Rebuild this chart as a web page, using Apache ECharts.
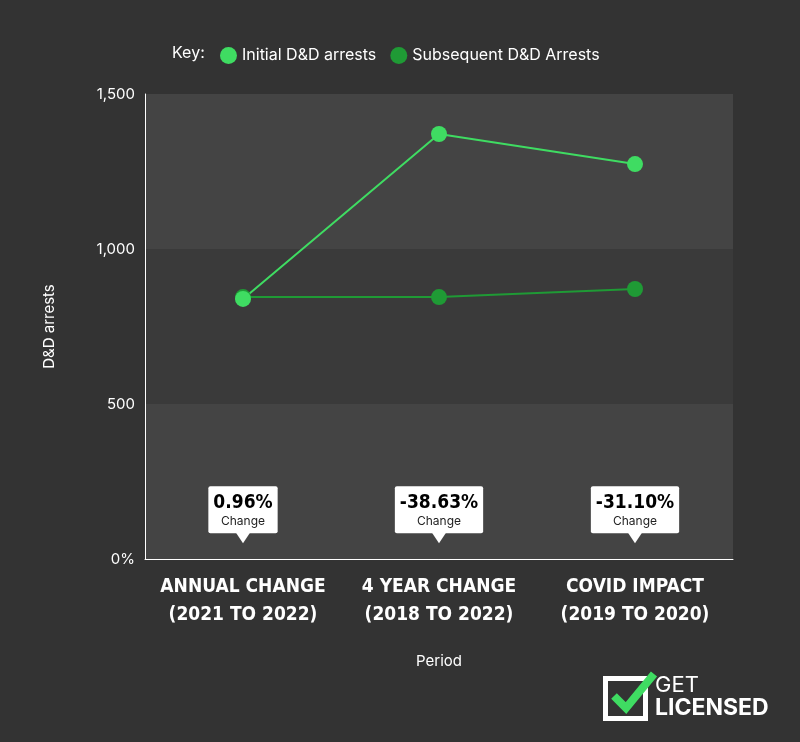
<!DOCTYPE html>
<html>
<head>
<meta charset="utf-8">
<script src="https://cdn.jsdelivr.net/npm/echarts@6/dist/echarts.min.js"></script>
<style>
  * { margin: 0; padding: 0 }
  html, body { width: 100%; height: 100%; background: #333333; }
  #main { width: 800px; height: 742px; }
</style>
</head>
<body>
<div id="main"></div>
<script>
var periods = ['ANNUAL CHANGE\n(2021 TO 2022)', '4 YEAR CHANGE\n(2018 TO 2022)', 'COVID IMPACT\n(2019 TO 2020)'];
var initialArrests = [839, 1371, 1274];
var subsequentArrests = [845, 845, 871];
var changeLabels = ['0.96%', '-38.63%', '-31.10%'];
var yTicks = {0: '0%', 500: '500', 1000: '1,000', 1500: '1,500'};

var chart = echarts.init(document.getElementById('main'));
var font = 'Inter, Roboto, sans-serif';
var narrow = '"DejaVu Sans Condensed", "Liberation Sans Narrow", sans-serif';
chart.setOption({
  backgroundColor: '#333333',
  grid: { left: 145, right: 67, top: 94, bottom: 183 },
  legend: {
    top: 42, left: 215, itemWidth: 17, itemHeight: 17, itemGap: 14,
    icon: 'circle',
    textStyle: { color: '#ffffff', fontSize: 16, fontFamily: font },
    data: ['Initial D&D arrests', 'Subsequent D&D Arrests']
  },
  xAxis: {
    type: 'category', data: periods,
    name: 'Period', nameLocation: 'middle', nameGap: 95,
    nameTextStyle: { color: '#ffffff', fontSize: 15, fontFamily: font },
    axisLine: { lineStyle: { color: '#ffffff' } },
    axisTick: { show: false },
    axisLabel: { color: '#ffffff', fontSize: 19, fontWeight: 'bold', lineHeight: 28, margin: 14,
      interval: 0, hideOverlap: false, fontFamily: narrow }
  },
  yAxis: {
    type: 'value', min: 0, max: 1500, interval: 500,
    name: 'D&D arrests', nameLocation: 'middle', nameGap: 88,
    nameTextStyle: { color: '#ffffff', fontSize: 15, fontFamily: font },
    axisLine: { show: true, lineStyle: { color: '#ffffff' } },
    axisTick: { show: false },
    splitLine: { show: false },
    splitArea: { show: true, areaStyle: { color: ['#444444', '#3a3a3a'] } },
    axisLabel: { color: '#ffffff', fontSize: 15, fontFamily: font, margin: 10,
      formatter: function (v) { return yTicks[v]; } }
  },
  series: [
    {
      name: 'Subsequent D&D Arrests', type: 'line', data: subsequentArrests,
      color: '#1f9a35', symbol: 'circle', symbolSize: 16, lineStyle: { width: 2 }
    },
    {
      name: 'Initial D&D arrests', type: 'line', data: initialArrests,
      color: '#3fdc62', symbol: 'circle', symbolSize: 16, lineStyle: { width: 2 }
    },
    {
      type: 'scatter', silent: true, legendHoverLink: false,
      data: changeLabels.map(function (c) { return 70; }),
      symbol: 'triangle', symbolRotate: 180, symbolSize: [16, 12],
      itemStyle: { color: '#ffffff', opacity: 1 },
      label: {
        show: true, position: 'top', distance: -2,
        formatter: function (p) { return '{a|' + changeLabels[p.dataIndex] + '}\n{b|Change}'; },
        backgroundColor: '#ffffff', borderRadius: 2, padding: [6, 5, 4, 5], align: 'center',
        rich: {
          a: { fontSize: 19, fontWeight: 'bold', color: '#000000', lineHeight: 22, align: 'center', fontFamily: narrow },
          b: { fontSize: 12, color: '#222222', fontFamily: font, lineHeight: 15, align: 'center' }
        }
      }
    }
  ],
  graphic: [
    { type: 'text', left: 172, top: 45, style: { text: 'Key:', fill: '#ffffff', fontSize: 16, fontFamily: font } },
    { type: 'rect', left: 603, top: 676, shape: { width: 40, height: 40 },
      style: { fill: 'none', stroke: '#ffffff', lineWidth: 5 } },
    { type: 'polyline', left: 610, top: 670, shape: { points: [[0, 22], [12, 34], [40, 0]] },
      style: { stroke: '#3fdc62', lineWidth: 8, fill: 'none' } },
    { type: 'text', left: 655, top: 674, style: { text: 'GET', fill: '#ffffff', fontSize: 22, fontFamily: font } },
    { type: 'text', left: 655, top: 697, style: { text: 'LICENSED', fill: '#ffffff', fontSize: 23, fontWeight: 'bold', fontFamily: font } }
  ]
});
</script>
</body>
</html>
